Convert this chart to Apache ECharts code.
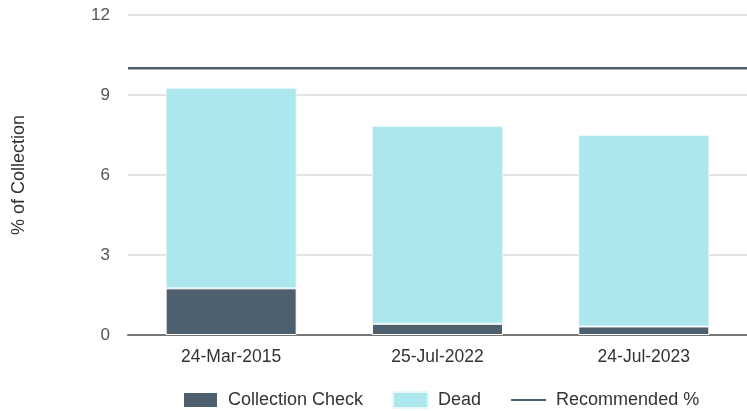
<!DOCTYPE html>
<html lang="en">
<head>
    <meta charset="UTF-8">
    <title>% of Collection</title>
    <script src="https://cdn.jsdelivr.net/npm/echarts@6/dist/echarts.min.js"></script>
    <style>
        html, body { margin: 0; padding: 0; background: #fff; }
    </style>
</head>
<body>
<div id="main" style="width: 747px;height:411px;"></div>
<script type="text/javascript">
    // data
    var dates = ['24-Mar-2015', '25-Jul-2022', '24-Jul-2023'];
    var collectionCheck = [1.75, 0.42, 0.32];
    var dead = [7.52, 7.42, 7.18];
    var recommended = [10, 10, 10];
    var yTicks = [0, 3, 6, 9, 12];

    var myChart = echarts.init(document.getElementById('main'));
    var font = 'Liberation Sans, Arial, sans-serif';

    var option = {
        animation: false,
        textStyle: { fontFamily: font },
        grid: { left: 128, right: 0, top: 15, bottom: 76 },
        legend: {
            top: 386,
            left: 177,
            itemWidth: 35,
            itemHeight: 16,
            itemGap: 29,
            textStyle: { fontSize: 18, color: '#333', fontFamily: font, padding: [0, 0, 0, 5] },
            data: [
                { name: 'Collection Check', icon: 'rect' },
                { name: 'Dead', icon: 'rect' },
                { name: 'Recommended %', itemStyle: { opacity: 0 } }
            ]
        },
        xAxis: [{
            type: 'category',
            data: dates,
            axisTick: { show: false },
            axisLine: { lineStyle: { color: '#777', width: 2 } },
            axisLabel: { fontSize: 17.5, color: '#333', margin: 13 }
        }, {
            type: 'category',
            data: dates,
            show: false,
            boundaryGap: false
        }],
        yAxis: {
            type: 'value',
            min: yTicks[0],
            max: yTicks[yTicks.length - 1],
            interval: 3,
            name: '% of Collection',
            nameLocation: 'middle',
            nameGap: 100,
            nameTextStyle: { fontSize: 18, color: '#333' },
            axisLabel: { fontSize: 17, color: '#555', margin: 18 },
            splitLine: { lineStyle: { color: '#e3e3e3', width: 2 } }
        },
        series: [{
            name: 'Collection Check',
            type: 'bar',
            stack: 'a',
            barWidth: '63.5%',
            data: collectionCheck,
            itemStyle: { color: '#4e5f6e', borderColor: '#fff', borderWidth: 1 }
        }, {
            name: 'Dead',
            type: 'bar',
            stack: 'a',
            data: dead,
            itemStyle: { color: '#ade7ee', borderColor: '#e6f8fa', borderWidth: 1 }
        }, {
            name: 'Recommended %',
            type: 'line',
            xAxisIndex: 1,
            data: recommended,
            symbol: 'none',
            lineStyle: { color: '#4e5f6e', width: 2.5 },
            itemStyle: { color: '#4e5f6e' }
        }]
    };

    myChart.setOption(option);
</script>
</body>
</html>
